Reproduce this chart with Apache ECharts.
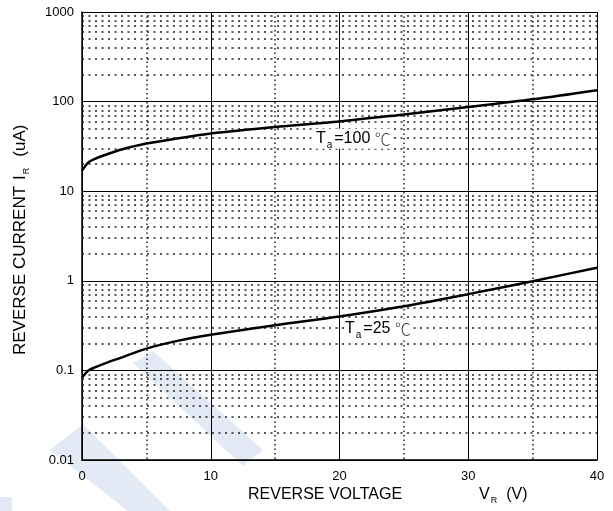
<!DOCTYPE html>
<html>
<head>
<meta charset="utf-8">
<script src="https://cdn.jsdelivr.net/npm/echarts@6/dist/echarts.min.js"></script>
<style>html,body{margin:0;padding:0;background:#fff;}#c{width:613px;height:511px;}</style>
</head>
<body>
<div id="c"></div>
<script>
// ---- data ----
var voltage = [0, 0.5, 1, 2, 3, 5, 7.5, 10, 15, 20, 25, 30, 35, 40];
var current100 = [17, 21, 23, 26, 29, 34, 39, 44, 52, 60, 72, 87, 106, 134];
var current25 = [0.083, 0.1, 0.108, 0.123, 0.138, 0.175, 0.215, 0.25, 0.32, 0.40, 0.52, 0.71, 0.99, 1.40];
var yTickLabels = ['0.01', '0.1', '1', '10', '100', '1000'];
var xTickLabels = ['0', '10', '20', '30', '40'];
var decades = [0.01, 0.1, 1, 10, 100];
var minorMultipliers = [2, 3, 4, 5, 6, 7, 8, 9];
var label100 = { v: 18.17, i: 38.6, text: '=100 ' };
var label25 = { v: 20.43, i: 0.292, text: '=25 ' };

function pairs(xs, ys) { return xs.map(function (x, k) { return [x, ys[k]]; }); }

var minorLines = [];
decades.forEach(function (d) {
  minorMultipliers.forEach(function (m) { minorLines.push({ yAxis: +(d * m).toPrecision(3) }); });
});

var font = 'Liberation Sans, Arial, sans-serif';
var richLabel = {
  t: { fontSize: 16, fontFamily: font, color: '#000', lineHeight: 20 },
  s: { fontSize: 10, fontFamily: font, color: '#000', padding: [13, 2, 0, 1], lineHeight: 20 },
  c: { fontSize: 16, fontFamily: 'Noto Sans CJK SC, DejaVu Sans, sans-serif', fontWeight: 300, color: '#444', lineHeight: 20 }
};
var wm = '#e3e9f5';

var chart = echarts.init(document.getElementById('c'), null, { renderer: 'canvas' });
chart.setOption({
  animation: false,
  backgroundColor: '#fff',
  graphic: [
    { type: 'polygon', z: -10, silent: true, shape: { points: [[133, 363], [153, 351], [263, 450], [243, 466]] }, style: { fill: wm } },
    { type: 'polygon', z: -10, silent: true, shape: { points: [[50, 450], [83, 424], [170, 511], [128, 511]] }, style: { fill: wm } },
    { type: 'polygon', z: -10, silent: true, shape: { points: [[0, 497], [12, 497], [12, 511], [0, 511]] }, style: { fill: wm } },
    {
      type: 'text', x: 248, y: 485, z: 10,
      style: {
        text: '{a|REVERSE VOLTAGE}{g1|}{a|V}{s|R}{g2|}{a|(V)}', align: 'left', verticalAlign: 'top',
        rich: {
          a: { fontSize: 16, fontFamily: font, color: '#000' },
          s: { fontSize: 9, fontFamily: font, color: '#000', padding: [11, 0, 0, 1] },
          g1: { width: 77 },
          g2: { width: 9 }
        }
      }
    },
    {
      type: 'text', x: 10, y: 355, rotation: Math.PI / 2, z: 10,
      style: {
        text: '{a|REVERSE CURRENT}{g1|}{a|I}{s|R}{g2|}{a|(uA)}', align: 'left', verticalAlign: 'top',
        rich: {
          a: { fontSize: 17, fontFamily: font, color: '#000' },
          s: { fontSize: 9, fontFamily: font, color: '#000', padding: [12, 0, 0, 1] },
          g1: { width: 6 },
          g2: { width: 11 }
        }
      }
    }
  ],
  grid: { left: 82, right: 16, top: 12, bottom: 51, containLabel: false },
  xAxis: {
    type: 'value', min: 0, max: 40, interval: 10,
    axisLine: { show: true, lineStyle: { color: '#000', width: 1.5 } },
    axisTick: { show: false },
    axisLabel: { color: '#000', fontSize: 13, fontFamily: font, margin: 10,
      formatter: function (v) { return xTickLabels[Math.round(v / 10)]; } },
    splitLine: { show: true, lineStyle: { color: '#000', width: 1 } },
    minorTick: { show: false, splitNumber: 2 },
    minorSplitLine: { show: true, lineStyle: { color: '#222', width: 1.5, type: [1.5, 3] } }
  },
  yAxis: {
    type: 'log', logBase: 10, min: 0.01, max: 1000,
    axisLine: { show: true, lineStyle: { color: '#000', width: 1.5 } },
    axisTick: { show: false },
    axisLabel: { color: '#000', fontSize: 13, fontFamily: font, margin: 8,
      formatter: function (v) { var k = Math.round(Math.log10(v)) + 2; return yTickLabels[k]; } },
    splitLine: { show: true, lineStyle: { color: '#000', width: 1 } }
  },
  series: [
    {
      type: 'line', data: pairs(voltage, current100), smooth: 0.3, showSymbol: false,
      lineStyle: { color: '#000', width: 2.5 }, z: 5,
      markLine: {
        silent: true, symbol: 'none', label: { show: false }, animation: false,
        lineStyle: { color: '#222', width: 1.5, type: [2, 4.5] },
        data: minorLines, z: 1
      },
      markPoint: {
        symbol: 'circle', symbolSize: 0, silent: true,
        data: [{ coord: [label100.v, label100.i], value: 0 }],
        label: { show: true, position: 'right', distance: 0, backgroundColor: '#fff',
          formatter: '{t|T}{s|a}{t|' + label100.text + '}{c|℃}', rich: richLabel }
      }
    },
    {
      type: 'line', data: pairs(voltage, current25), smooth: 0.3, showSymbol: false,
      lineStyle: { color: '#000', width: 2.5 }, z: 5,
      markPoint: {
        symbol: 'circle', symbolSize: 0, silent: true,
        data: [{ coord: [label25.v, label25.i], value: 0 }],
        label: { show: true, position: 'right', distance: 0, backgroundColor: '#fff',
          formatter: '{t|T}{s|a}{t|' + label25.text + '}{c|℃}', rich: richLabel }
      }
    }
  ]
});
</script>
</body>
</html>
